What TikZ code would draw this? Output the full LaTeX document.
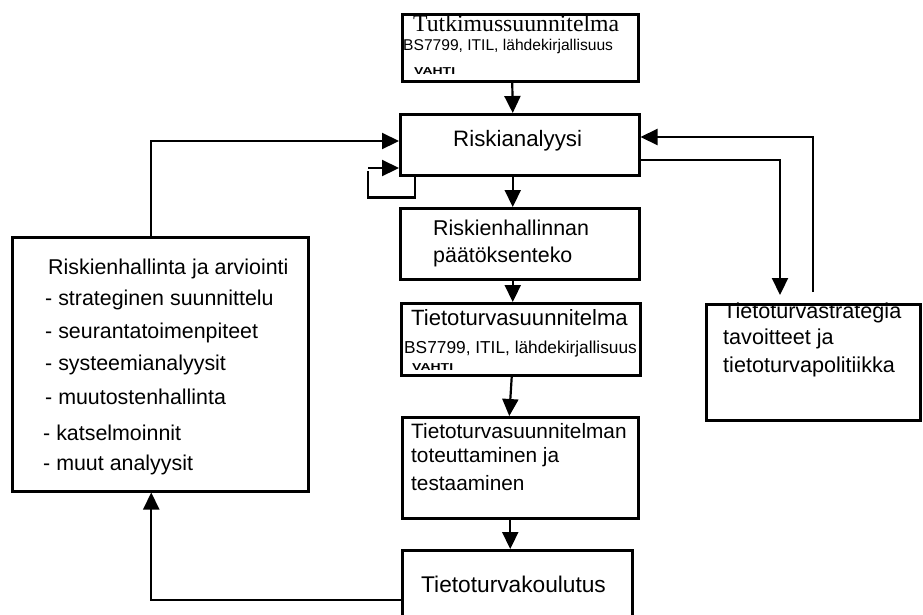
\documentclass[tikz,border=0pt]{standalone}
\usepackage{fontspec}
\setmainfont{Liberation Sans}
\newfontfamily\serifface{Liberation Serif}
\usetikzlibrary{arrows.meta}

\newcommand{\fsz}[1]{\fontsize{#1}{#1}\selectfont}
\newcommand{\widetag}[1]{\scalebox{1.4}[1]{#1}}

\begin{document}
\begin{tikzpicture}[x=1pt,y=-1pt,
  box/.style={draw, line width=2.5pt, inner sep=0pt, anchor=north west},
  txt/.style={anchor=base west, inner sep=0pt},
  tag/.style={anchor=base west, inner sep=0pt, font=\fsz{10}\bfseries},
  flow/.style={line width=2.2pt, -{Triangle[length=17pt,width=16pt]}},
  wire/.style={line width=2.2pt}
]
\useasboundingbox (0,0) rectangle (923,614);
\fill[white] (0,0) rectangle (923,614);

% process boxes
\node[box, minimum width=236pt, minimum height=67pt] (tut) at (401,13) {};
\node[box, minimum width=239pt, minimum height=61pt] (ria) at (399,113) {};
\node[box, minimum width=239pt, minimum height=71pt] (rpt) at (399,207) {};
\node[box, minimum width=239pt, minimum height=72pt] (tts) at (400,302) {};
\node[box, minimum width=236pt, minimum height=101pt] (ttt) at (401,416) {};
\node[box, minimum width=230pt, minimum height=80pt] (tvk) at (401,549) {};
\node[box, minimum width=214pt, minimum height=116pt] (str) at (705,303) {};
\node[box, minimum width=296pt, minimum height=254pt] (rha) at (11,236) {};

% texts
\node[txt, font=\serifface\fsz{23.7}] (tutA) at (413,31) {Tutkimussuunnitelma};
\node[txt, font=\fsz{15.6}] (tutB) at (403,50) {BS7799, ITIL, lähdekirjallisuus};
\node[tag] (tutC) at (414,74) {\widetag{VAHTI}};

\node[txt, font=\fsz{22.3}] (riaA) at (453,146) {Riskianalyysi};

\node[txt, font=\fsz{21.4}] (rptA) at (433,235) {Riskienhallinnan};
\node[txt, font=\fsz{21.4}] (rptB) at (433,262) {päätöksenteko};

\node[txt, font=\fsz{22.1}] (ttsA) at (411,325) {Tietoturvasuunnitelma};
\node[txt, font=\fsz{17.3}] (ttsB) at (404,353) {BS7799, ITIL, lähdekirjallisuus};
\node[tag] (ttsC) at (412,370) {\widetag{VAHTI}};

\node[txt, font=\fsz{20.8}] (tttA) at (411,438) {Tietoturvasuunnitelman};
\node[txt, font=\fsz{20.8}] (tttB) at (411,462) {toteuttaminen ja};
\node[txt, font=\fsz{20.8}] (tttC) at (411,490) {testaaminen};

\node[txt, font=\fsz{22.7}] (tvkA) at (421,592) {Tietoturvakoulutus};

\node[txt, font=\fsz{21.6}] (strA) at (723,318) {Tietoturvastrategia};
\node[txt, font=\fsz{21.6}] (strB) at (723,344) {tavoitteet ja};
\node[txt, font=\fsz{21.6}] (strC) at (723,372) {tietoturvapolitiikka};

\node[txt, font=\fsz{21.4}] (rhaA) at (48,274) {Riskienhallinta ja arviointi};
\node[txt, font=\fsz{21.4}] (rhaB) at (45,305) {- strateginen suunnittelu};
\node[txt, font=\fsz{21.4}] (rhaC) at (45,338) {- seurantatoimenpiteet};
\node[txt, font=\fsz{21.4}] (rhaD) at (45,370) {- systeemianalyysit};
\node[txt, font=\fsz{21.4}] (rhaE) at (45,404) {- muutostenhallinta};
\node[txt, font=\fsz{21.4}] (rhaF) at (43,440) {- katselmoinnit};
\node[txt, font=\fsz{21.4}] (rhaG) at (43,470) {- muut analyysit};

% main chain
\draw[flow] ([xshift=-8pt]tut.south) -- ([xshift=-7pt]ria.north);
\draw[flow] ([xshift=-7pt]ria.south) -- ([xshift=-7pt]rpt.north);
\draw[flow] ([xshift=-7pt]rpt.south) -- ([xshift=-8pt]tts.north);
\draw[flow] ([xshift=-9pt]tts.south) -- ([xshift=-11pt]ttt.north);
\draw[flow] ([xshift=-10pt]ttt.south) -- ([xshift=-7pt]tvk.north);

% feedback through the assessment box
\coordinate (tvkW) at ([yshift=-51pt]tvk.north west);
\draw[flow] (tvkW) -| ([xshift=-9pt]rha.south);
\coordinate (rhaN) at ([xshift=-9pt]rha.north);
\coordinate (riaW1) at ([yshift=-28pt]ria.north west);
\draw[flow] (rhaN) |- (riaW1);

% self loop on the risk analysis
\coordinate (riaS) at ([xshift=16pt]ria.south west);
\coordinate (riaW2) at ([yshift=-55pt]ria.north west);
\draw[wire] (riaS) -- ++(0,21) -- ++(-47,0) -- ++(0,-27);
\draw[flow] ([xshift=-31pt]riaW2) -- (riaW2);

% strategy and policy loop
\coordinate (riaE1) at ([yshift=-47pt]ria.north east);
\draw[flow] (riaE1) -| ([xshift=75pt, yshift=8pt]str.north west);
\coordinate (strN) at ([xshift=108pt, yshift=11pt]str.north west);
\coordinate (riaE2) at ([yshift=-24pt]ria.north east);
\draw[flow] (strN) |- (riaE2);
\end{tikzpicture}
\end{document}
